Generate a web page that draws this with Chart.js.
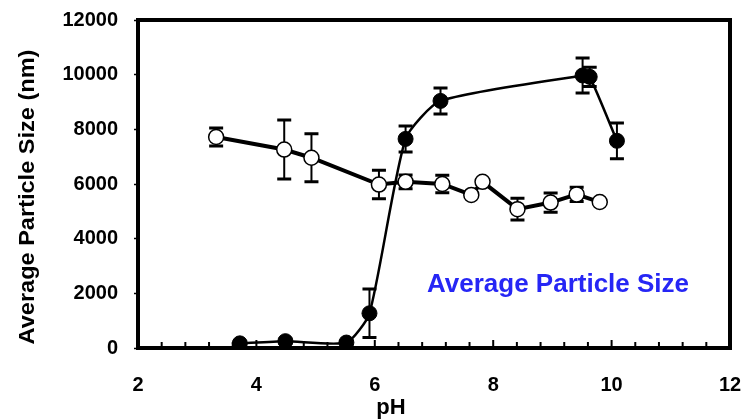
<!DOCTYPE html>
<html>
<head>
<meta charset="utf-8">
<script src="https://cdn.jsdelivr.net/npm/chart.js@4.4.1/dist/chart.umd.min.js"></script>
<style>
  html, body { margin: 0; padding: 0; background: #fff; }
  #wrap { width: 756px; height: 420px; }
</style>
</head>
<body>
<div id="wrap"><canvas id="sizeChart"></canvas></div>
<script>
// pH values and average particle size (nm)
const filledPH   = [3.72, 4.49, 5.52, 5.91, 6.52, 7.11, 9.51, 9.63, 10.09];
const filledSize = [170, 250, 200, 1270, 7650, 9040, 9970, 9920, 7580];
const filledErr  = [80, 80, 60, 890, 475, 475, 640, 350, 655];

const openPH   = [3.32, 4.47, 4.93, 6.07, 6.52, 7.14, 7.63, 7.82, 8.41, 8.97, 9.41, 9.80];
const openSize = [7720, 7260, 6960, 5980, 6080, 6000, 5600, 6080, 5080, 5320, 5620, 5340];
const openErr  = [330, 1080, 880, 520, 250, 320, 0, 0, 400, 350, 260, 0];

const xTicks = [2, 4, 6, 8, 10, 12];
const yTicks = [0, 2000, 4000, 6000, 8000, 10000, 12000];

const FONT = "'Liberation Sans', Arial, sans-serif";

function points(xs, ys) {
  return xs.map((x, i) => ({x: x, y: ys[i]}));
}

// error bars, drawn under the markers
const errorBars = {
  id: 'errorBars',
  beforeDatasetsDraw(chart) {
    const ctx = chart.ctx;
    const xs = chart.scales.x, ys = chart.scales.y;
    const sets = [[filledPH, filledSize, filledErr], [openPH, openSize, openErr]];
    ctx.save();
    ctx.strokeStyle = '#000';
    sets.forEach(([px, py, pe]) => {
      px.forEach((v, i) => {
        if (!pe[i]) return;
        const x = xs.getPixelForValue(v);
        const top = ys.getPixelForValue(py[i] + pe[i]);
        const bot = ys.getPixelForValue(py[i] - pe[i]);
        ctx.lineWidth = 2;
        ctx.beginPath();
        ctx.moveTo(x, top); ctx.lineTo(x, bot);
        ctx.stroke();
        ctx.lineWidth = 3;
        ctx.beginPath();
        ctx.moveTo(x - 7, top); ctx.lineTo(x + 7, top);
        ctx.moveTo(x - 7, bot); ctx.lineTo(x + 7, bot);
        ctx.stroke();
      });
    });
    ctx.restore();
  }
};

// thick box round the plot, inner minor ticks on x, axis titles and the label
const frame = {
  id: 'frame',
  beforeDatasetsDraw(chart) {
    const ctx = chart.ctx;
    const a = chart.chartArea;
    const xs = chart.scales.x;
    ctx.save();
    ctx.strokeStyle = '#000';
    ctx.lineWidth = 4;
    ctx.strokeRect(a.left, a.top, a.right - a.left, a.bottom - a.top);
    ctx.lineWidth = 2;
    for (let k = 1; k < 25; k++) {
      const v = 2 + k * 0.4;
      const x = xs.getPixelForValue(v);
      const major = k % 5 === 0;
      ctx.beginPath();
      ctx.moveTo(x, a.bottom);
      ctx.lineTo(x, a.bottom - (major ? 8 : 6));
      ctx.stroke();
    }
    ctx.restore();
  },
  afterDraw(chart) {
    const ctx = chart.ctx;
    ctx.save();
    ctx.fillStyle = '#000';
    ctx.font = 'bold 22px ' + FONT;
    ctx.textAlign = 'center';
    ctx.textBaseline = 'middle';
    ctx.fillText('pH', 391, 408);
    ctx.translate(28, 197);
    ctx.rotate(-Math.PI / 2);
    ctx.scale(1.07, 1);
    ctx.fillText('Average Particle Size (nm)', 0, 0);
    ctx.restore();

    ctx.save();
    ctx.fillStyle = '#2626f5';
    ctx.font = 'bold 26px ' + FONT;
    ctx.textAlign = 'center';
    ctx.textBaseline = 'middle';
    ctx.fillText('Average Particle Size', 558, 285);
    ctx.restore();
  }
};

new Chart(document.getElementById('sizeChart'), {
  type: 'scatter',
  data: {
    datasets: [
      {
        label: 'filled',
        data: points(filledPH, filledSize),
        showLine: true,
        borderColor: '#000',
        borderWidth: 2.5,
        tension: 0.2,
        pointRadius: 7.5,
        pointBackgroundColor: '#000',
        pointBorderColor: '#000',
        pointBorderWidth: 1,
        order: 0
      },
      {
        label: 'open',
        data: points(openPH, openSize),
        showLine: true,
        borderColor: '#000',
        borderWidth: 4,
        tension: 0,
        pointRadius: 7.5,
        pointBackgroundColor: '#fff',
        pointBorderColor: '#000',
        pointBorderWidth: 1.5,
        order: 1
      }
    ]
  },
  options: {
    responsive: true,
    maintainAspectRatio: false,
    animation: false,
    layout: { padding: { left: 0, right: 26, top: 20, bottom: 0 } },
    plugins: {
      legend: { display: false },
      tooltip: { enabled: false }
    },
    scales: {
      x: {
        type: 'linear',
        min: 2, max: 12,
        afterBuildTicks: s => { s.ticks = xTicks.map(v => ({value: v})); },
        afterFit: s => { s.height = 72; s.paddingLeft = 0; s.paddingRight = 0; },
        grid: { display: true, drawOnChartArea: false, drawTicks: false },
        border: { display: false },
        ticks: {
          color: '#000',
          padding: 25,
          font: { family: FONT, size: 20, weight: 'bold' }
        }
      },
      y: {
        type: 'linear',
        min: 0, max: 12000,
        afterBuildTicks: s => { s.ticks = yTicks.map(v => ({value: v})); },
        afterFit: s => { s.width = 138; s.paddingTop = 0; s.paddingBottom = 0; },
        grid: { drawOnChartArea: false, drawTicks: true, tickLength: 4, color: '#000', tickWidth: 1.5 },
        border: { display: false },
        ticks: {
          color: '#000',
          padding: 16,
          callback: v => String(v),
          font: { family: FONT, size: 20, weight: 'bold' }
        }
      }
    }
  },
  plugins: [errorBars, frame]
});
</script>
</body>
</html>
